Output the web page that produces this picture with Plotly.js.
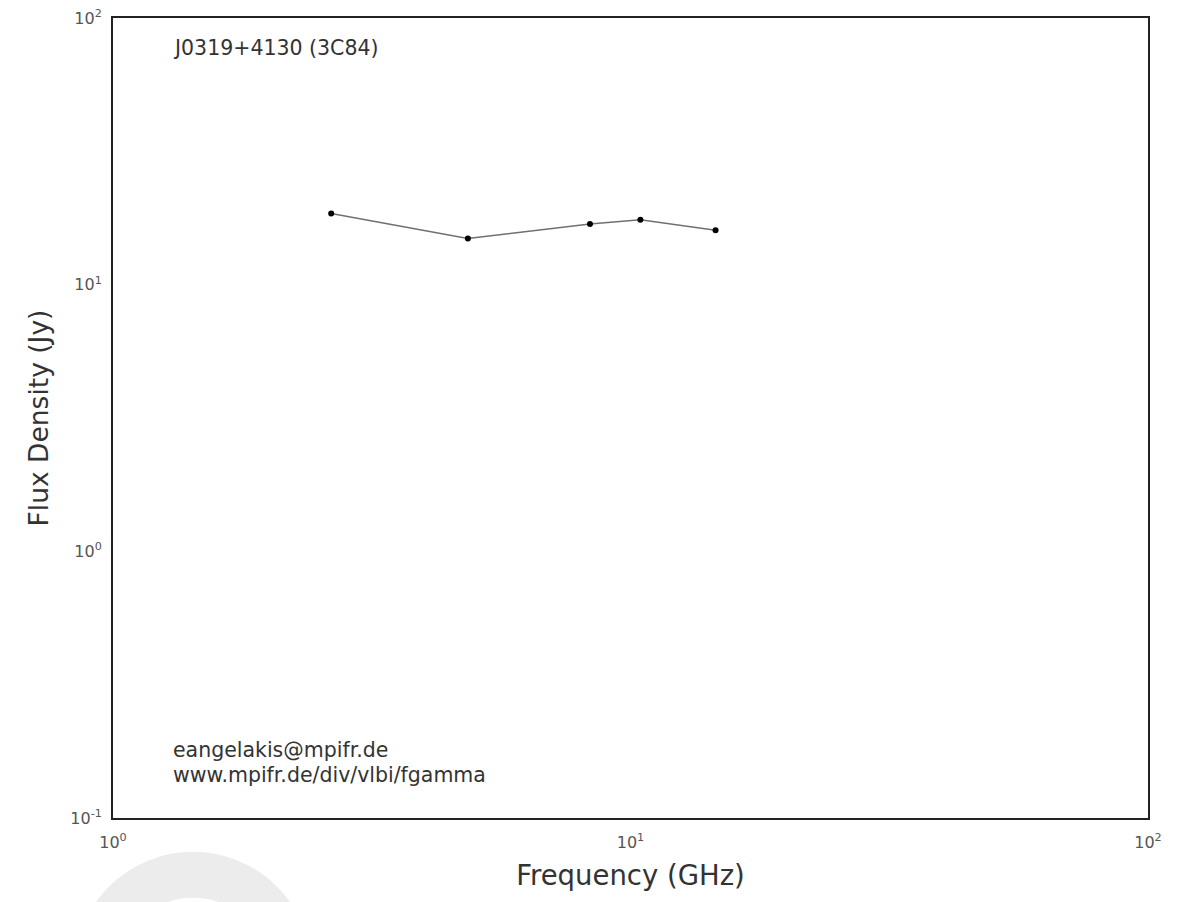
<!DOCTYPE html>
<html>
<head>
<meta charset="utf-8">
<script src="https://cdn.plot.ly/plotly-3.0.1.min.js"></script>
<style>html,body{margin:0;padding:0;background:#fff;}#chart{width:1186px;height:902px;}</style>
</head>
<body>
<div id="chart"></div>
<script>
var frequencies = [2.64, 4.85, 8.35, 10.45, 14.6];
var fluxDensity = [18.5, 14.9, 16.9, 17.5, 16.0];

var xTickVals = [1, 10, 100];
var xTickText = ['10<sup>0</sup>', '10<sup>1</sup>', '10<sup>2</sup>'];
var yTickVals = [0.1, 1, 10, 100];
var yTickText = ['10<sup>-1</sup>', '10<sup>0</sup>', '10<sup>1</sup>', '10<sup>2</sup>'];

var sourceName = 'J0319+4130 (3C84)';
var creditLines = ['eangelakis@mpifr.de', 'www.mpifr.de/div/vlbi/fgamma'];

var font = 'DejaVu Sans, sans-serif';

var trace = {
  x: frequencies,
  y: fluxDensity,
  type: 'scatter',
  mode: 'lines+markers',
  line: {color: '#707070', width: 1.5},
  marker: {color: '#000', size: 6},
  hoverinfo: 'x+y'
};

var layout = {
  width: 1186,
  height: 902,
  margin: {l: 113, r: 38, t: 18, b: 84},
  paper_bgcolor: '#fff',
  plot_bgcolor: '#fff',
  showlegend: false,
  font: {family: font, color: '#333'},
  xaxis: {
    type: 'log',
    range: [0, 2],
    tickvals: xTickVals,
    ticktext: xTickText,
    ticks: '',
    ticklabelstandoff: 9,
    showgrid: false,
    zeroline: false,
    showline: true,
    mirror: true,
    linecolor: '#222',
    linewidth: 2,
    tickfont: {family: font, size: 16, color: '#555'},
    title: {text: 'Frequency (GHz)', font: {family: font, size: 27.5, color: '#333'}, standoff: 15}
  },
  yaxis: {
    type: 'log',
    range: [-1, 2],
    tickvals: yTickVals,
    ticktext: yTickText,
    ticks: '',
    ticklabelstandoff: 6,
    showgrid: false,
    zeroline: false,
    showline: true,
    mirror: true,
    linecolor: '#222',
    linewidth: 2,
    tickfont: {family: font, size: 16, color: '#555'},
    title: {text: 'Flux Density (Jy)', font: {family: font, size: 26.5, color: '#333'}, standoff: 14}
  },
  annotations: [
    {xref: 'paper', yref: 'paper', x: 0.056, y: 0.9625, xanchor: 'left', yanchor: 'middle',
     text: sourceName, showarrow: false, font: {family: font, size: 20.5, color: '#333'}},
    {xref: 'paper', yref: 'paper', x: 0.056, y: 0.085, xanchor: 'left', yanchor: 'middle',
     text: creditLines[0], showarrow: false, font: {family: font, size: 20.5, color: '#333'}},
    {xref: 'paper', yref: 'paper', x: 0.056, y: 0.0535, xanchor: 'left', yanchor: 'middle',
     text: creditLines[1], showarrow: false, font: {family: font, size: 20.5, color: '#333'}}
  ],
  shapes: [
    {type: 'circle', xref: 'paper', yref: 'paper', layer: 'below',
     x0: -0.0155, x1: 0.170, y0: -0.311, y1: -0.071,
     line: {color: '#ececec', width: 46}, fillcolor: 'rgba(0,0,0,0)'}
  ]
};

Plotly.newPlot('chart', [trace], layout, {displayModeBar: false, staticPlot: true});
</script>
</body>
</html>
